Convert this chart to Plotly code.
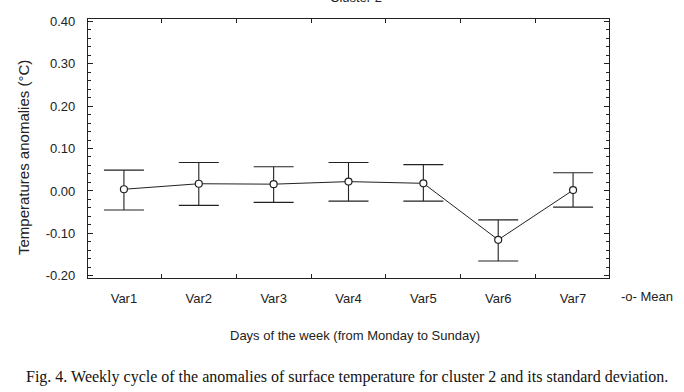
import plotly.graph_objects as go

categories = ["Var1", "Var2", "Var3", "Var4", "Var5", "Var6", "Var7"]
means = [0.004, 0.017, 0.016, 0.022, 0.018, -0.115, 0.002]
upper = [0.049, 0.067, 0.057, 0.067, 0.062, -0.068, 0.043]
lower = [-0.045, -0.034, -0.027, -0.024, -0.024, -0.165, -0.038]
ytick_vals = [-0.2, -0.1, 0.0, 0.1, 0.2, 0.3, 0.4]
ytick_text = ["-0.20", "-0.10", "0.00", "0.10", "0.20", "0.30", "0.40"]

err_plus = [u - m for u, m in zip(upper, means)]
err_minus = [m - l for m, l in zip(means, lower)]

W, H = 684, 392
L, R, T, B = 88, 609, 19, 278

def px(x):
    return (x - L) / (R - L)

def py(y):
    return (B - y) / (B - T)

FONT = "Liberation Sans, Arial, sans-serif"
INK = "#222222"

fig = go.Figure()
fig.add_trace(go.Scatter(
    x=categories, y=means, mode="lines+markers",
    line=dict(color=INK, width=1),
    marker=dict(symbol="circle", size=7, color="white", line=dict(color=INK, width=1.2)),
    error_y=dict(type="data", symmetric=False, array=err_plus, arrayminus=err_minus,
                 color=INK, thickness=1.1, width=20),
    showlegend=False,
))

fig.update_layout(
    width=W, height=H, autosize=False,
    margin=dict(l=L, r=W - R, t=T, b=H - B, pad=0),
    paper_bgcolor="white", plot_bgcolor="white",
    font=dict(family=FONT, size=13, color=INK),
    xaxis=dict(
        type="category", range=[-0.48, 6.48],
        showline=True, linecolor=INK, linewidth=1.2, mirror="ticks",
        ticks="inside", ticklen=4, tickcolor=INK, tickson="boundaries",
        showgrid=False, zeroline=False,
        tickfont=dict(family=FONT, size=13, color=INK),
        ticklabelstandoff=8,
    ),
    yaxis=dict(
        range=[-0.205, 0.405], tickvals=ytick_vals, ticktext=ytick_text,
        showline=True, linecolor=INK, linewidth=1.2, mirror="ticks",
        ticks="inside", ticklen=5, tickcolor=INK,
        minor=dict(dtick=0.02, tick0=0, ticks="inside", ticklen=3, tickcolor=INK, showgrid=False),
        showgrid=False, zeroline=False,
        tickfont=dict(family=FONT, size=13, color=INK),
        ticklabelstandoff=9,
    ),
)

annotations = [
    dict(text="Cluster 2", x=px(356), y=py(7), xref="paper", yref="paper",
         xanchor="center", yanchor="bottom", showarrow=False,
         font=dict(family=FONT, size=13, color=INK)),
    dict(text="Temperatures anomalies (°C)", x=px(23), y=py(158), xref="paper", yref="paper",
         xanchor="center", yanchor="middle", textangle=-90, showarrow=False,
         font=dict(family=FONT, size=15, color=INK)),
    dict(text="-o- Mean", x=px(619), y=py(296), xref="paper", yref="paper",
         xanchor="left", yanchor="middle", showarrow=False,
         font=dict(family=FONT, size=13, color=INK)),
    dict(text="Days of the week (from Monday to Sunday)", x=px(355), y=py(335), xref="paper", yref="paper",
         xanchor="center", yanchor="middle", showarrow=False,
         font=dict(family=FONT, size=13, color=INK)),
    dict(text="Fig. 4. Weekly cycle of the anomalies of surface temperature for cluster 2 and its standard deviation.",
         x=px(347), y=py(377), xref="paper", yref="paper",
         xanchor="center", yanchor="middle", showarrow=False,
         font=dict(family="Liberation Serif, Times New Roman, serif", size=16, color="#111111")),
]
fig.update_layout(annotations=annotations)

fig.write_html("out.html", config={"displayModeBar": False},
               post_script="document.body.style.margin='0';document.body.style.overflow='hidden';")
